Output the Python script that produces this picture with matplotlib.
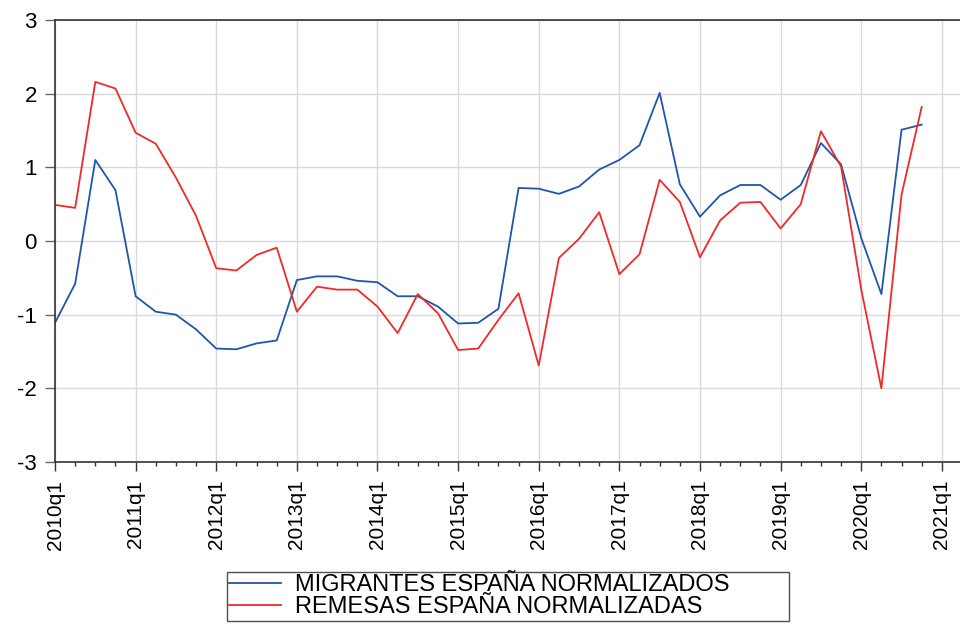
import matplotlib
matplotlib.use("Agg")
import matplotlib.pyplot as plt
from matplotlib.ticker import FixedLocator

plt.rcParams['font.family'] = ['Liberation Sans', 'DejaVu Sans']

years = list(range(2010, 2022))
year_labels = [f"{y}q1" for y in years]

migrantes = [-1.11, -0.58, 1.10, 0.69, -0.75, -0.96, -1.00, -1.20,
             -1.46, -1.47, -1.39, -1.35, -0.53, -0.48, -0.48, -0.54,
             -0.56, -0.75, -0.75, -0.89, -1.12, -1.11, -0.92, 0.72,
             0.71, 0.64, 0.74, 0.97, 1.10, 1.30, 2.01, 0.77,
             0.33, 0.62, 0.76, 0.76, 0.56, 0.76, 1.33, 1.04,
             0.04, -0.72, 1.51, 1.58]
remesas = [0.49, 0.45, 2.16, 2.07, 1.47, 1.32, 0.86, 0.34,
           -0.37, -0.40, -0.19, -0.09, -0.96, -0.62, -0.66, -0.66,
           -0.89, -1.25, -0.72, -0.98, -1.48, -1.46, -1.07, -0.71,
           -1.69, -0.23, 0.03, 0.39, -0.45, -0.18, 0.83, 0.53,
           -0.22, 0.28, 0.52, 0.53, 0.17, 0.50, 1.49, 1.01,
           -0.66, -2.00, 0.63, 1.82]

x = list(range(len(migrantes)))

fig = plt.figure(figsize=(9.6, 6.25), dpi=100)
ax = fig.add_axes([55/960, 1-462/625, 1-55/960, (462-20)/625])

ax.plot(x, migrantes, color='#2255aa', lw=1.3, label='MIGRANTES ESPAÑA NORMALIZADOS')
ax.plot(x, remesas, color='#ee2a2a', lw=1.3, label='REMESAS ESPAÑA NORMALIZADAS')

ax.set_xlim(0, 44.9)
ax.set_ylim(-3, 3)
major = [4*i for i in range(len(years))]
ax.xaxis.set_major_locator(FixedLocator(major))
ax.set_xticklabels(year_labels, rotation=90, fontsize=15)
ax.xaxis.set_minor_locator(FixedLocator([i for i in range(45) if i % 4 != 0]))
ax.set_yticks([-3, -2, -1, 0, 1, 2, 3])
ax.set_yticklabels(['-3', '-2', '-1', '0', '1', '2', '3'], fontsize=16)
ax.tick_params(axis='x', which='major', length=6.7, width=1, direction='out', color='#333333', pad=6)
ax.tick_params(axis='x', which='minor', length=3, width=1, direction='out', color='#333333')
ax.tick_params(axis='y', which='major', length=7, width=1, direction='out', color='#666666', pad=6)
ax.grid(True, which='major', color='#d9d9d9', lw=1)
ax.set_axisbelow(True)
for s in ['left', 'top', 'bottom']:
    ax.spines[s].set_color('#333333')
    ax.spines[s].set_linewidth(1.2)
ax.spines['right'].set_visible(False)

leg = fig.legend(loc='upper left', bbox_to_anchor=(227/960, 0, 562/960, 1-572/625),
                 mode='expand', fontsize=17,
                 frameon=True, fancybox=False, handlelength=2.2, handletextpad=0.6,
                 borderpad=0.1, labelspacing=0.0, borderaxespad=0)
leg.get_frame().set_edgecolor('#222222')
leg.get_frame().set_linewidth(1)

fig.savefig('out.png', dpi=100)
